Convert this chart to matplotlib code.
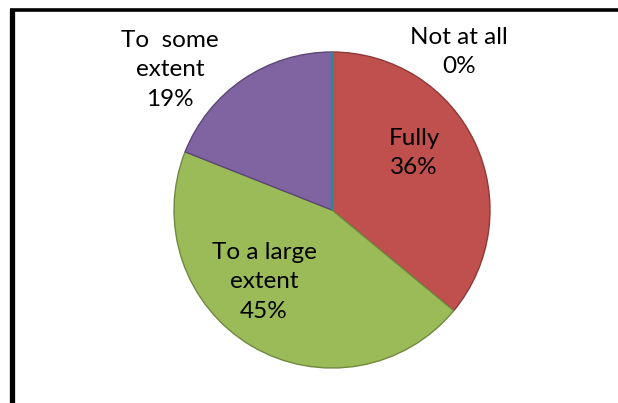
import matplotlib.pyplot as plt

# data
categories = ["Not at all", "Fully", "To a large\nextent", "To  some\nextent"]
percents = [0, 36, 45, 19]

colors = ["#4F81BD", "#C0504D", "#9BBB59", "#8064A2"]
edges = ["#31849B", "#8C3A38", "#71893F", "#5C4776"]

W, H = 618, 403
fig = plt.figure(figsize=(W / 100, H / 100), dpi=100)
ax = fig.add_axes([0, 0, 1, 1])

# pie centre / radius in pixel units (y measured from the bottom)
cx, cy, r = 332, H - 210, 158
wedges, _ = ax.pie(percents, colors=colors, startangle=90, counterclock=False,
                   center=(cx, cy), radius=r, frame=True,
                   wedgeprops=dict(linewidth=1.0))
ax.set_xlim(0, W)
ax.set_ylim(0, H)
ax.set_aspect("equal")
ax.axis("off")
for w, ec in zip(wedges, edges):
    w.set_edgecolor(ec)
# zero slice shows only as a line on top
wedges[0].set_linewidth(2.0)
wedges[0].set_zorder(5)

# label positions (pixel coords, from top)
label_pos = [(459, 52), (414, 153), (264, 282), (170, 70)]
for name, pct, (x, y) in zip(categories, percents, label_pos):
    ax.text(x, H - y, f"{name}\n{pct}%", ha="center", va="center",
            fontsize=17.5, family="Lato", linespacing=1.52, color="black")

# partial black frame (left and top)
ax.plot([11.5, 11.5], [0, H - 9], color="black", lw=3.8, solid_capstyle="butt")
ax.plot([9.5, W], [H - 9.5, H - 9.5], color="black", lw=2.6, solid_capstyle="butt")

fig.savefig("out.png", dpi=100)
